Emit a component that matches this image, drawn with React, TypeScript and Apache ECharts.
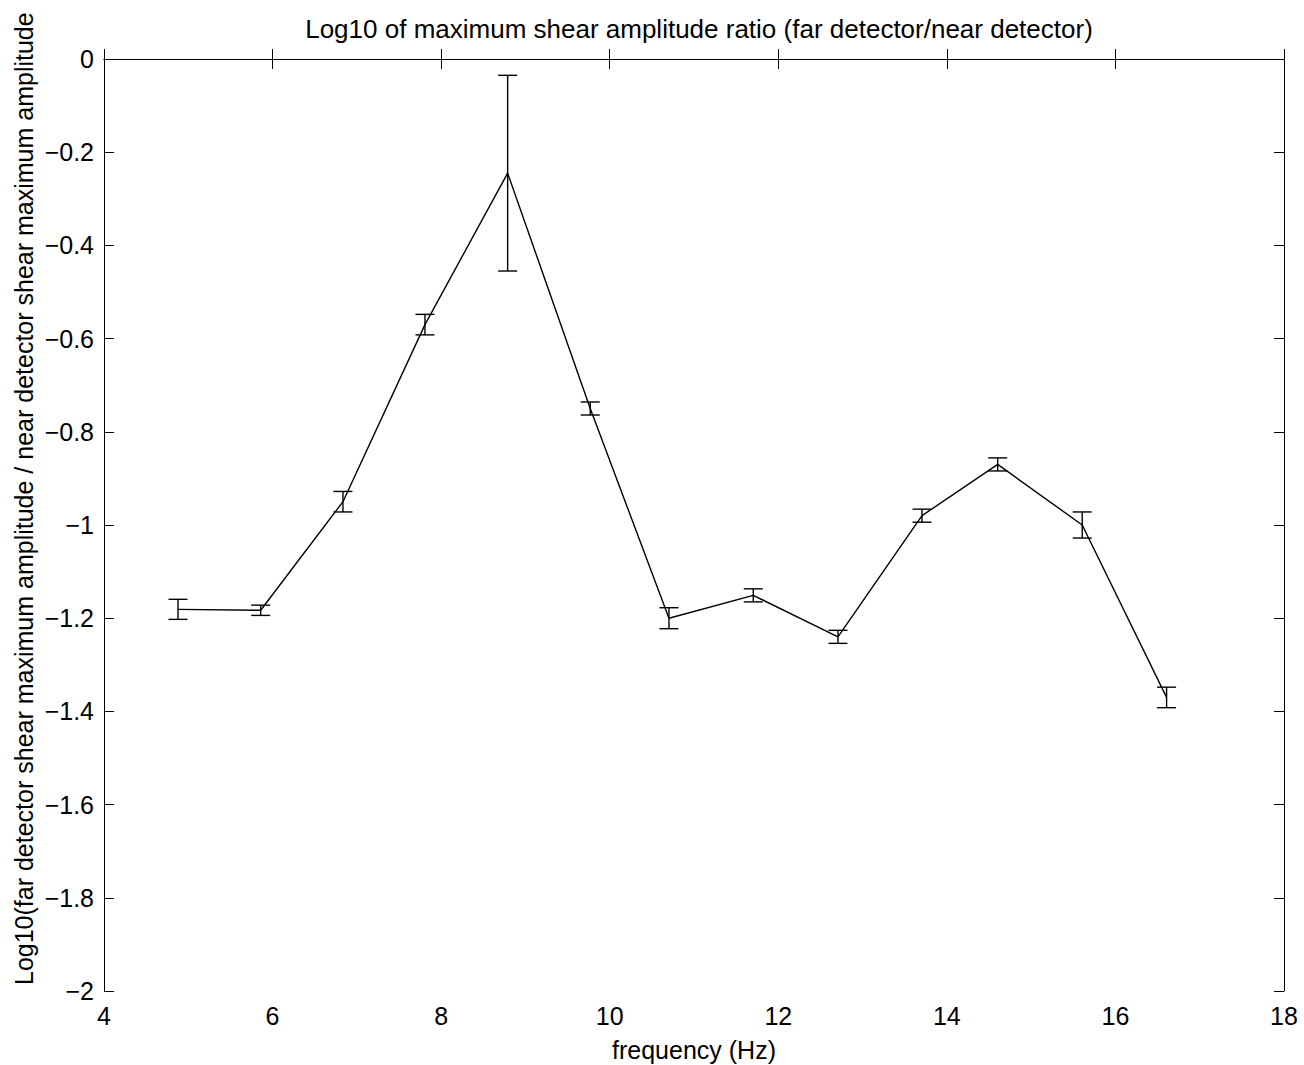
import React, { useEffect, useRef } from "react";
import * as echarts from "echarts";

// Frequency (Hz) of each measurement
const frequency = [4.878, 5.859, 6.835, 7.808, 8.789, 9.769, 10.703, 11.703, 12.708, 13.705, 14.603, 15.606, 16.607];
// Log10 of far/near maximum shear amplitude ratio
const logRatio = [-1.181, -1.183, -0.95, -0.57, -0.245, -0.75, -1.2, -1.151, -1.24, -0.98, -0.87, -1.0, -1.37];
// Half-length of each error bar
const errHalf = [0.0215, 0.011, 0.022, 0.022, 0.21, 0.014, 0.0225, 0.014, 0.014, 0.014, 0.014, 0.028, 0.022];

const xTicks = { min: 4, max: 18, interval: 2 };
const yTicks = { min: -2, max: 0, interval: 0.2 };

const titleText = "Log10 of maximum shear amplitude ratio (far detector/near detector)";
const xLabel = "frequency (Hz)";
const yLabel = "Log10(far detector shear maximum amplitude / near detector shear maximum amplitude";

const FONT = "'Liberation Sans', Arial, Helvetica, sans-serif";

const fmt = (v: number) => {
  const s = Number.isInteger(v) ? String(v) : String(Math.round(v * 10) / 10);
  return s.replace("-", "\u2212");
};

export default function App() {
  const ref = useRef<HTMLDivElement>(null);

  useEffect(() => {
    if (!ref.current) return;
    const chart = echarts.init(ref.current, null, { renderer: "svg" });

    const lineData = frequency.map((f, i) => [f, logRatio[i]]);
    const errData = frequency.map((f, i) => [f, logRatio[i] - errHalf[i], logRatio[i] + errHalf[i]]);

    const axisCommon = {
      axisLine: { show: true, lineStyle: { color: "#000", width: 1 } },
      axisTick: { show: true, inside: true, length: 10, lineStyle: { color: "#000", width: 1 } },
      splitLine: { show: false },
    };

    const option: any = {
      animation: false,
      backgroundColor: "#fff",
      grid: { left: 104, right: 20, top: 59, bottom: 74, containLabel: false },
      xAxis: [
        {
          type: "value",
          position: "bottom",
          ...xTicks,
          ...axisCommon,
          axisLabel: {
            show: true,
            margin: 12,
            color: "#000",
            fontSize: 25,
            fontFamily: FONT,
            formatter: fmt,
          },
        },
        {
          type: "value",
          position: "top",
          ...xTicks,
          ...axisCommon,
          axisLabel: { show: false },
        },
      ],
      yAxis: [
        {
          type: "value",
          position: "left",
          ...yTicks,
          ...axisCommon,
          axisLabel: {
            show: true,
            margin: 10,
            color: "#000",
            fontSize: 25,
            fontFamily: FONT,
            formatter: fmt,
          },
        },
        {
          type: "value",
          position: "right",
          ...yTicks,
          ...axisCommon,
          axisLabel: { show: false },
        },
      ],
      series: [
        {
          type: "line",
          data: lineData,
          xAxisIndex: 0,
          yAxisIndex: 0,
          showSymbol: false,
          symbol: "none",
          lineStyle: { color: "#000", width: 1.4 },
          silent: true,
        },
        {
          type: "custom",
          xAxisIndex: 0,
          yAxisIndex: 0,
          data: errData,
          silent: true,
          renderItem: (params: any, api: any) => {
            const x = api.value(0);
            const lo = api.coord([x, api.value(1)]);
            const hi = api.coord([x, api.value(2)]);
            const w = 9.5;
            const style = { stroke: "#000", lineWidth: 1.4 };
            return {
              type: "group",
              children: [
                { type: "line", shape: { x1: lo[0], y1: lo[1], x2: hi[0], y2: hi[1] }, style },
                { type: "line", shape: { x1: lo[0] - w, y1: lo[1], x2: lo[0] + w, y2: lo[1] }, style },
                { type: "line", shape: { x1: hi[0] - w, y1: hi[1], x2: hi[0] + w, y2: hi[1] }, style },
              ],
            };
          },
        },
      ],
      graphic: [
        {
          type: "text",
          x: 699,
          y: 42,
          style: {
            text: titleText,
            fill: "#000",
            font: `26px ${FONT}`,
            textAlign: "center",
            textVerticalAlign: "bottom",
          },
        },
        {
          type: "text",
          x: 694,
          y: 1062,
          style: {
            text: xLabel,
            fill: "#000",
            font: `25px ${FONT}`,
            textAlign: "center",
            textVerticalAlign: "bottom",
          },
        },
        {
          type: "text",
          x: 36,
          y: 985,
          rotation: Math.PI / 2,
          style: {
            text: yLabel,
            fill: "#000",
            font: `25px ${FONT}`,
            textAlign: "left",
            textVerticalAlign: "bottom",
          },
        },
      ],
    };

    chart.setOption(option);
    return () => chart.dispose();
  }, []);

  return <div ref={ref} style={{ position: "fixed", left: 0, top: 0, width: 1304, height: 1065 }} />;
}
